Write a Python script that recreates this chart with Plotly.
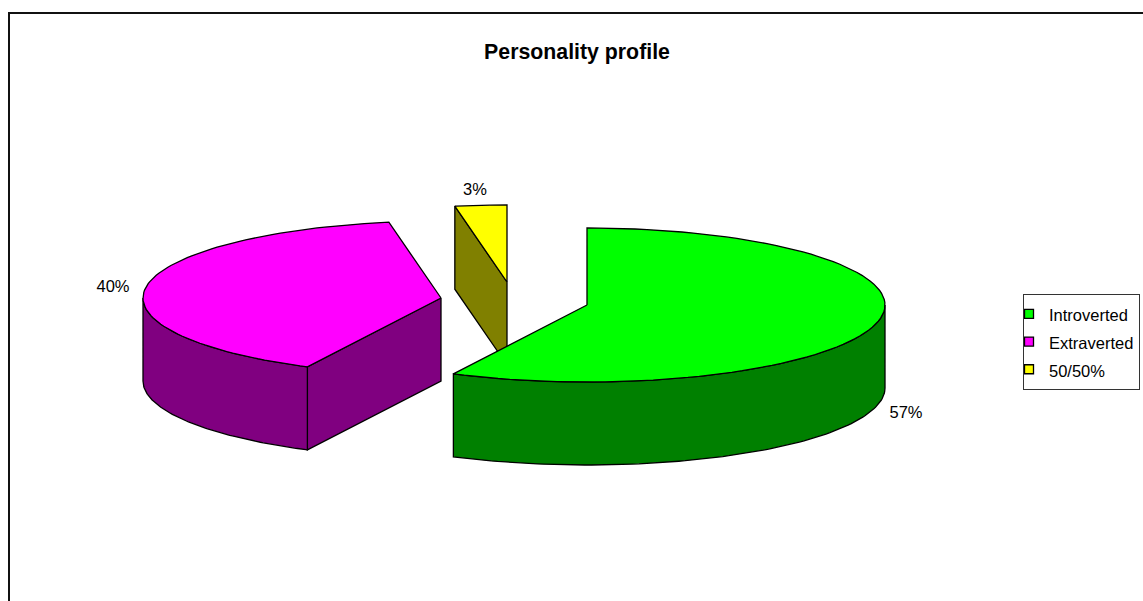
import numpy as np
import plotly.graph_objects as go

categories = ["Introverted", "Extraverted", "50/50%"]
values = [57.4, 39.8, 2.8]
top_colors = ["#00FF00", "#FF00FF", "#FFFF00"]
side_colors = ["#008000", "#800080", "#808000"]

# Projected pie geometry (pixel-like data units on the axes)
RX, RY, DEPTH = 298, 77, 83
centers = [(587, 305), (441, 298), (507, 282)]
label_pos = [(906, 414), (113, 288), (475, 191)]
FONT = "Liberation Sans, Arial, sans-serif"
LINE = dict(color="black", width=1.3)


def arc(c, a, b, dz=0, n=90):
    t = np.radians(np.linspace(a, b, n))
    return c[0] + RX * np.sin(t), c[1] - RY * np.cos(t) + dz


def poly(x, y, color):
    return go.Scatter(x=np.r_[x, x[0]], y=np.r_[y, y[0]], mode="lines", fill="toself",
                      fillcolor=color, line=LINE, hoverinfo="skip", showlegend=False)


total = sum(values)
angles = np.r_[0, np.cumsum(values) / total * 360]
fig = go.Figure()

# Paint back to front: 50/50%, Extraverted, Introverted
for i in [2, 1, 0]:
    c, a, b = centers[i], angles[i], angles[i + 1]
    ax, ay = arc(c, a, b)
    # Cut face that looks towards the viewer
    if i in (1, 2):
        ex, ey = arc(c, a, a, n=1)
        fig.add_trace(poly(np.r_[c[0], ex, ex, c[0]],
                           np.r_[c[1], ey, ey + DEPTH, c[1] + DEPTH], side_colors[i]))
    # Rim: visible front part of the arc
    lo, hi = max(a, 90), min(b, 270)
    if lo < hi:
        x1, y1 = arc(c, lo, hi)
        x2, y2 = arc(c, lo, hi, DEPTH)
        fig.add_trace(poly(np.r_[x1, x2[::-1]], np.r_[y1, y2[::-1]], side_colors[i]))
    # Top face
    fig.add_trace(poly(np.r_[c[0], ax], np.r_[c[1], ay], top_colors[i]))

# Percentage labels
fig.add_trace(go.Scatter(
    x=[p[0] for p in label_pos], y=[p[1] for p in label_pos], mode="text",
    text=[f"{round(v)}%" for v in values], textposition="middle center",
    textfont=dict(family=FONT, size=16.5, color="black"),
    hoverinfo="skip", showlegend=False))

# Legend entries
for name, col in zip(categories, top_colors):
    fig.add_trace(go.Scatter(
        x=[None], y=[None], mode="markers",
        name=f'<span style="font-size:16.5px">{name}</span>',
        marker=dict(symbol="square", size=9, color=col, line=dict(color="black", width=1.3))))

fig.update_layout(
    width=1143, height=601, margin=dict(l=0, r=0, t=0, b=0),
    paper_bgcolor="white", plot_bgcolor="white",
    xaxis=dict(range=[0, 1143], visible=False, fixedrange=True),
    yaxis=dict(range=[601, 0], visible=False, fixedrange=True),
    title=dict(text="<b>Personality profile</b>", x=577 / 1143, xanchor="center",
               y=1 - 52 / 601, yanchor="middle",
               font=dict(family=FONT, size=21.3, color="black")),
    legend=dict(x=1023 / 1143, xanchor="left", y=1 - 294 / 601, yanchor="top",
                bordercolor="#333333", borderwidth=1, bgcolor="white",
                font=dict(family=FONT, size=19, color="black"),
                indentation=-15, traceorder="normal"),
    shapes=[dict(type="rect", xref="x", yref="y", x0=9, y0=13, x1=1160, y1=620,
                 line=dict(color="#111111", width=2), layer="below")],
)
fig.write_html("out.html", config={"displayModeBar": False},
               post_script="document.body.style.margin='0';document.body.style.overflow='hidden';")
